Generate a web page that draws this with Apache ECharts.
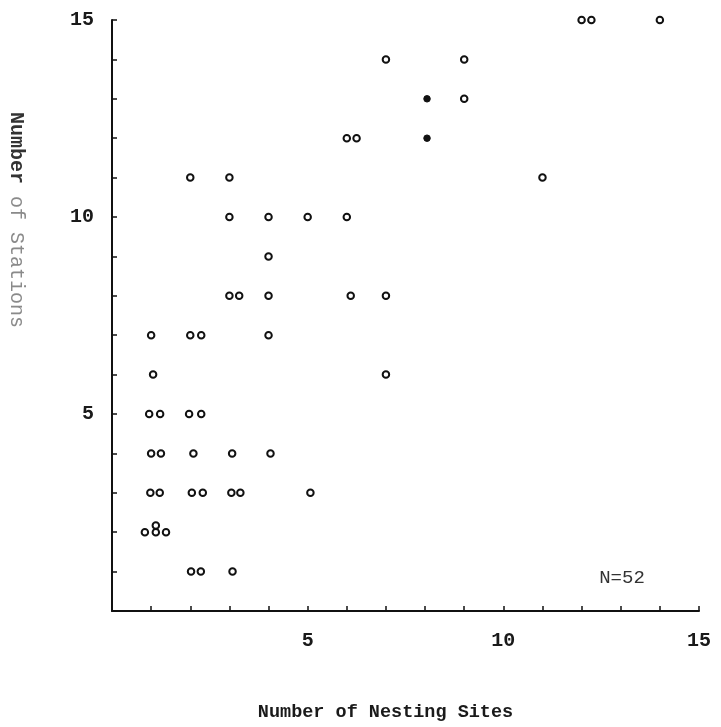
<!DOCTYPE html>
<html>
<head>
<meta charset="utf-8">
<script src="https://cdn.jsdelivr.net/npm/echarts@6/dist/echarts.min.js"></script>
<style>html,body{margin:0;padding:0;background:#fff;}#c{width:721px;height:727px;}</style>
</head>
<body>
<div id="c"></div>
<script>
// Points as drawn (x = nesting sites, y = stations); side-by-side duplicates slightly offset as in the original
var openPoints = [
  [12, 15], [12.25, 15], [14, 15],
  [7, 14], [9, 14],
  [9, 13],
  [6, 12], [6.25, 12],
  [2, 11], [3, 11], [11, 11],
  [3, 10], [4, 10], [5, 10], [6, 10],
  [4, 9],
  [3, 8], [3.25, 8], [4, 8], [6.1, 8], [7, 8],
  [1, 7], [2, 7], [2.28, 7], [4, 7],
  [1.05, 6], [7, 6],
  [0.95, 5], [1.23, 5], [1.97, 5], [2.28, 5],
  [1, 4], [1.25, 4], [2.08, 4], [3.07, 4], [4.05, 4],
  [0.98, 3], [1.22, 3], [2.04, 3], [2.32, 3], [3.05, 3], [3.28, 3], [5.07, 3],
  [0.84, 2], [1.12, 2], [1.38, 2], [1.12, 2.17],
  [2.02, 1], [2.27, 1], [3.08, 1]
];
var filledPoints = [[8.05, 13], [8.05, 12]];
var xLabelValues = [5, 10, 15];
var yLabelValues = [5, 10, 15];
var xAxisTitle = 'Number of Nesting Sites';
var yAxisTitleParts = ['Number', ' of Stations'];
var noteText = 'N=52';

var font = '"Liberation Mono", "DejaVu Sans Mono", monospace';
var chart = echarts.init(document.getElementById('c'));
chart.setOption({
  backgroundColor: '#ffffff',
  animation: false,
  grid: { left: 112, right: 22, top: 20, bottom: 116 },
  xAxis: {
    type: 'value', min: 0, max: 15, interval: 1,
    splitLine: { show: false },
    axisLine: { show: true, lineStyle: { color: '#111', width: 2 } },
    axisTick: { show: true, inside: true, length: 5, lineStyle: { color: '#111', width: 1.5 } },
    axisLabel: {
      margin: 20, color: '#1a1a1a', fontFamily: font, fontSize: 20, fontWeight: 'bold',
      formatter: function (v) { return xLabelValues.indexOf(v) >= 0 ? String(v) : ''; }
    },
    name: xAxisTitle, nameLocation: 'middle', nameGap: 92,
    nameTextStyle: { color: '#1a1a1a', fontFamily: font, fontSize: 18.5, fontWeight: 'bold', padding: [0, 40, 0, 0] }
  },
  yAxis: {
    type: 'value', min: 0, max: 15, interval: 1,
    splitLine: { show: false },
    axisLine: { show: true, lineStyle: { color: '#111', width: 2 } },
    axisTick: { show: true, inside: true, length: 5, lineStyle: { color: '#111', width: 1.5 } },
    axisLabel: {
      margin: 18, color: '#1a1a1a', fontFamily: font, fontSize: 20, fontWeight: 'bold',
      formatter: function (v) { return yLabelValues.indexOf(v) >= 0 ? String(v) : ''; }
    }
  },
  graphic: [
    {
      type: 'text', x: 16, y: 220, rotation: -Math.PI / 2,
      style: {
        text: '{a|' + yAxisTitleParts[0] + '}{b|' + yAxisTitleParts[1] + '}',
        rich: {
          a: { fill: '#333', font: 'bold 20px ' + font },
          b: { fill: '#8a8a8a', font: '20px ' + font }
        },
        textAlign: 'center', textVerticalAlign: 'middle'
      }
    },
    {
      type: 'text', x: 622, y: 578,
      style: {
        text: noteText, fill: '#333', font: '19px ' + font,
        textAlign: 'center', textVerticalAlign: 'middle'
      }
    }
  ],
  series: [
    {
      type: 'scatter', data: openPoints, symbol: 'circle', symbolSize: 6.5,
      itemStyle: { color: '#ffffff', borderColor: '#111', borderWidth: 2, opacity: 1 }
    },
    {
      type: 'scatter', data: filledPoints, symbol: 'circle', symbolSize: 6.5,
      itemStyle: { color: '#111', borderColor: '#111', borderWidth: 1, opacity: 1 }
    }
  ]
});
</script>
</body>
</html>
